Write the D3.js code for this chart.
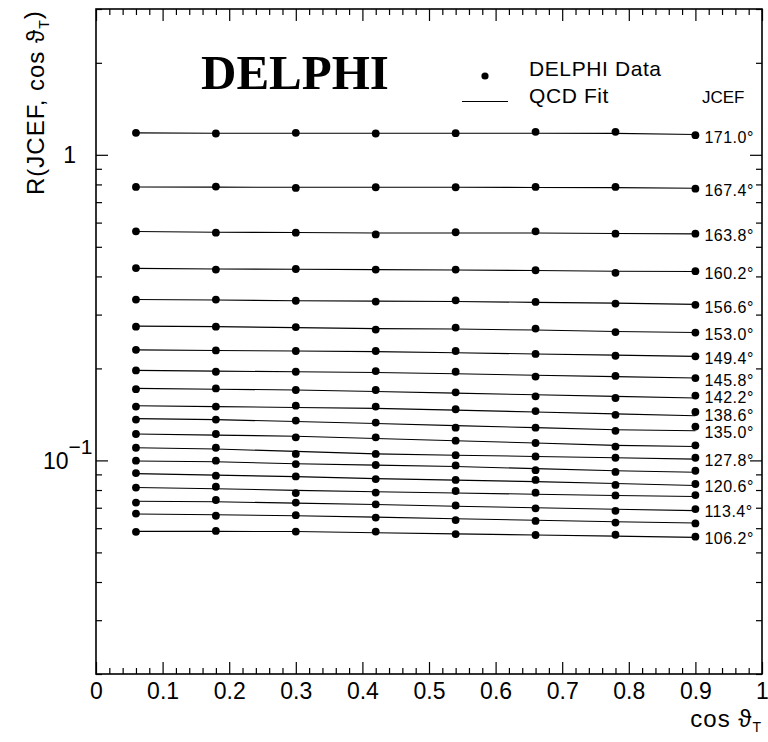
<!DOCTYPE html>
<html>
<head>
<meta charset="utf-8">
<script src="https://cdn.jsdelivr.net/npm/d3@7"></script>
<style>
  html, body { margin: 0; padding: 0; background: #fff; }
  svg { display: block; }
  text { fill: #000; }
</style>
</head>
<body>
<svg id="chart" width="768" height="742" font-family="Liberation Sans, Arial, sans-serif"></svg>
<script>
// ---------------- data ----------------
const cosTheta = [0.06, 0.18, 0.30, 0.42, 0.54, 0.66, 0.78, 0.90];

const jcefAngles = [171.0, 167.4, 163.8, 160.2, 156.6, 153.0, 149.4, 145.8, 142.2, 138.6,
                    135.0, 131.4, 127.8, 124.2, 120.6, 117.0, 113.4, 109.8, 106.2];
const jcefLabels = ["171.0°", "167.4°", "163.8°", "160.2°", "156.6°", "153.0°", "149.4°", "145.8°",
                    "142.2°", "138.6°", "135.0°", "", "127.8°", "", "120.6°", "", "113.4°", "", "106.2°"];

// DELPHI data points, one array per JCEF angle
const data_171_0 = [1.180, 1.174, 1.180, 1.174, 1.177, 1.189, 1.189, 1.159];
const data_167_4 = [0.785, 0.787, 0.779, 0.783, 0.783, 0.785, 0.785, 0.775];
const data_163_8 = [0.562, 0.556, 0.556, 0.549, 0.558, 0.562, 0.552, 0.552];
const data_160_2 = [0.426, 0.421, 0.423, 0.421, 0.421, 0.419, 0.411, 0.416];
const data_156_6 = [0.336, 0.336, 0.333, 0.331, 0.334, 0.330, 0.326, 0.323];
const data_153_0 = [0.274, 0.274, 0.273, 0.268, 0.272, 0.270, 0.263, 0.262];
const data_149_4 = [0.230, 0.229, 0.228, 0.228, 0.228, 0.223, 0.220, 0.219];
const data_145_8 = [0.197, 0.195, 0.195, 0.196, 0.195, 0.188, 0.189, 0.186];
const data_142_2 = [0.171, 0.172, 0.170, 0.170, 0.167, 0.162, 0.160, 0.163];
const data_138_6 = [0.150, 0.150, 0.151, 0.150, 0.147, 0.145, 0.141, 0.144];
const data_135_0 = [0.136, 0.136, 0.135, 0.133, 0.128, 0.128, 0.125, 0.129];
const data_131_4 = [0.122, 0.122, 0.119, 0.119, 0.116, 0.114, 0.111, 0.112];
const data_127_8 = [0.110, 0.110, 0.105, 0.105, 0.104, 0.103, 0.102, 0.102];
const data_124_2 = [0.0998, 0.0998, 0.0973, 0.0966, 0.0963, 0.0929, 0.0917, 0.0925];
const data_120_6 = [0.0909, 0.0891, 0.0886, 0.0869, 0.0863, 0.0863, 0.0831, 0.0837];
const data_117_0 = [0.0815, 0.0820, 0.0782, 0.0785, 0.0794, 0.0784, 0.0768, 0.0770];
const data_113_4 = [0.0728, 0.0742, 0.0728, 0.0718, 0.0712, 0.0697, 0.0684, 0.0693];
const data_109_8 = [0.0670, 0.0659, 0.0662, 0.0650, 0.0638, 0.0634, 0.0626, 0.0622];
const data_106_2 = [0.0584, 0.0588, 0.0585, 0.0585, 0.0574, 0.0570, 0.0571, 0.0563];

// QCD fit curves, one array per JCEF angle
const fit_171_0 = [1.180, 1.177, 1.177, 1.176, 1.176, 1.177, 1.175, 1.165];
const fit_167_4 = [0.785, 0.784, 0.783, 0.783, 0.783, 0.782, 0.781, 0.777];
const fit_163_8 = [0.561, 0.558, 0.557, 0.555, 0.555, 0.555, 0.553, 0.551];
const fit_160_2 = [0.425, 0.423, 0.422, 0.421, 0.420, 0.418, 0.416, 0.415];
const fit_156_6 = [0.336, 0.335, 0.333, 0.332, 0.331, 0.329, 0.327, 0.324];
const fit_153_0 = [0.275, 0.274, 0.272, 0.270, 0.269, 0.267, 0.264, 0.262];
const fit_149_4 = [0.230, 0.229, 0.228, 0.227, 0.225, 0.223, 0.221, 0.219];
const fit_145_8 = [0.197, 0.196, 0.195, 0.194, 0.192, 0.190, 0.188, 0.186];
const fit_142_2 = [0.172, 0.171, 0.170, 0.168, 0.166, 0.164, 0.162, 0.160];
const fit_138_6 = [0.151, 0.150, 0.149, 0.148, 0.146, 0.144, 0.142, 0.140];
const fit_135_0 = [0.137, 0.136, 0.134, 0.132, 0.130, 0.128, 0.126, 0.125];
const fit_131_4 = [0.122, 0.121, 0.120, 0.118, 0.116, 0.114, 0.112, 0.111];
const fit_127_8 = [0.110, 0.109, 0.107, 0.105, 0.104, 0.103, 0.102, 0.101];
const fit_124_2 = [0.0995, 0.0990, 0.0975, 0.0965, 0.0955, 0.0940, 0.0925, 0.0915];
const fit_120_6 = [0.0905, 0.0895, 0.0885, 0.0872, 0.0862, 0.0852, 0.0840, 0.0828];
const fit_117_0 = [0.0815, 0.0808, 0.0798, 0.0790, 0.0782, 0.0775, 0.0768, 0.0762];
const fit_113_4 = [0.0735, 0.0732, 0.0725, 0.0717, 0.0708, 0.0700, 0.0692, 0.0685];
const fit_109_8 = [0.0668, 0.0664, 0.0659, 0.0652, 0.0644, 0.0637, 0.0630, 0.0624];
const fit_106_2 = [0.0586, 0.0586, 0.0585, 0.0580, 0.0575, 0.0570, 0.0565, 0.0560];

const xMajorTicks = [0, 0.1, 0.2, 0.3, 0.4, 0.5, 0.6, 0.7, 0.8, 0.9, 1];
const xTickLabels = ["0", "0.1", "0.2", "0.3", "0.4", "0.5", "0.6", "0.7", "0.8", "0.9", "1"];
const yMajorTicks = [0.1, 1];
const yMinorTicks = [0.02, 0.03, 0.04, 0.05, 0.06, 0.07, 0.08, 0.09,
                     0.2, 0.3, 0.4, 0.5, 0.6, 0.7, 0.8, 0.9, 2, 3];

const dataSeries = [data_171_0, data_167_4, data_163_8, data_160_2, data_156_6, data_153_0,
  data_149_4, data_145_8, data_142_2, data_138_6, data_135_0, data_131_4, data_127_8,
  data_124_2, data_120_6, data_117_0, data_113_4, data_109_8, data_106_2];
const fitSeries = [fit_171_0, fit_167_4, fit_163_8, fit_160_2, fit_156_6, fit_153_0,
  fit_149_4, fit_145_8, fit_142_2, fit_138_6, fit_135_0, fit_131_4, fit_127_8,
  fit_124_2, fit_120_6, fit_117_0, fit_113_4, fit_109_8, fit_106_2];

// ---------------- chart ----------------
const svg = d3.select("#chart");
const x = d3.scaleLinear().domain([0, 1]).range([96, 762]);
const y = d3.scaleLog().domain([0.02, 3]).range([674, 9]);

const xMinorTicks = d3.range(0, 1.0001, 0.02).filter(v => Math.abs(v * 10 - Math.round(v * 10)) > 1e-6);

function styleAxis(g) {
  g.select(".domain").remove();
  g.selectAll(".tick line").attr("stroke", "#000").attr("stroke-width", 1.2);
}

// bottom axis (ticks point inward)
svg.append("g").attr("transform", `translate(0,${y.range()[0]})`)
  .call(d3.axisBottom(x).tickValues(xMajorTicks).tickSize(-12).tickPadding(9)
        .tickFormat((d, i) => xTickLabels[i]))
  .call(styleAxis)
  .call(g => g.selectAll("text").attr("font-size", 23)
        .style("font-family", "Liberation Sans, Arial, sans-serif").attr("fill", "#000"));
svg.append("g").attr("transform", `translate(0,${y.range()[0]})`)
  .call(d3.axisBottom(x).tickValues(xMinorTicks).tickSize(-6).tickFormat(""))
  .call(styleAxis);
// top axis
svg.append("g").attr("transform", `translate(0,${y.range()[1]})`)
  .call(d3.axisTop(x).tickValues(xMajorTicks).tickSize(-12).tickFormat(""))
  .call(styleAxis);
svg.append("g").attr("transform", `translate(0,${y.range()[1]})`)
  .call(d3.axisTop(x).tickValues(xMinorTicks).tickSize(-6).tickFormat(""))
  .call(styleAxis);
// left axis
svg.append("g").attr("transform", `translate(${x.range()[0]},0)`)
  .call(d3.axisLeft(y).tickValues(yMajorTicks).tickSize(-12).tickFormat(""))
  .call(styleAxis);
svg.append("g").attr("transform", `translate(${x.range()[0]},0)`)
  .call(d3.axisLeft(y).tickValues(yMinorTicks).tickSize(-6).tickFormat(""))
  .call(styleAxis);
// right axis
svg.append("g").attr("transform", `translate(${x.range()[1]},0)`)
  .call(d3.axisRight(y).tickValues(yMajorTicks).tickSize(-12).tickFormat(""))
  .call(styleAxis);
svg.append("g").attr("transform", `translate(${x.range()[1]},0)`)
  .call(d3.axisRight(y).tickValues(yMinorTicks).tickSize(-6).tickFormat(""))
  .call(styleAxis);

// frame
svg.append("rect")
  .attr("x", x.range()[0]).attr("y", y.range()[1])
  .attr("width", x.range()[1] - x.range()[0]).attr("height", y.range()[0] - y.range()[1])
  .attr("fill", "none").attr("stroke", "#000").attr("stroke-width", 1.6);

// y tick labels
svg.append("text").attr("x", x.range()[0] - 20).attr("y", y(1)).attr("dy", "0.36em")
  .attr("text-anchor", "end").attr("font-size", 23).text("1");
const tenLbl = svg.append("text").attr("x", x.range()[0] - 53).attr("y", y(0.1)).attr("dy", "0.36em")
  .attr("font-size", 23);
tenLbl.append("tspan").text("10");
tenLbl.append("tspan").attr("dy", "-0.7em").attr("font-size", 21).text("−1");

// axis titles
const yTitle = svg.append("text")
  .attr("transform", "translate(44,195) rotate(-90)")
  .attr("font-size", 24).attr("letter-spacing", 1);
yTitle.append("tspan").text("R(JCEF, cos ϑ");
yTitle.append("tspan").attr("font-size", 14).attr("dy", "0.35em").text("T");
yTitle.append("tspan").attr("dy", "-0.35em").attr("font-size", 24).text(")");

const xTitle = svg.append("text").attr("x", 762).attr("y", 727)
  .attr("text-anchor", "end").attr("font-size", 24).attr("letter-spacing", 1);
xTitle.append("tspan").text("cos ϑ");
xTitle.append("tspan").attr("font-size", 14).attr("dy", "0.35em").text("T");

// fit lines
const line = d3.line().x((d, i) => x(cosTheta[i])).y(d => y(d));
svg.append("g").selectAll("path").data(fitSeries).join("path")
  .attr("d", line).attr("fill", "none").attr("stroke", "#000").attr("stroke-width", 1.1);

// data points
const pts = svg.append("g");
dataSeries.forEach(series => {
  pts.selectAll(null).data(series).join("circle")
    .attr("cx", (d, i) => x(cosTheta[i])).attr("cy", d => y(d))
    .attr("r", 3.9).attr("fill", "#000");
});

// JCEF labels at right end of each series, pushed apart to avoid collisions
const labelGap = 17.5;
const labelItems = [];
dataSeries.forEach((d, i) => {
  if (!jcefLabels[i]) return;
  const want = y(d[d.length - 1]) + 2;
  const prev = labelItems.length ? labelItems[labelItems.length - 1].pos : -Infinity;
  labelItems.push({ text: jcefLabels[i], pos: Math.max(want, prev + labelGap) });
});
svg.append("g").selectAll("text").data(labelItems).join("text")
  .attr("x", x(cosTheta[cosTheta.length - 1]) + 9)
  .attr("y", d => d.pos)
  .attr("dy", "0.36em")
  .attr("font-size", 16)
  .attr("letter-spacing", 0.5)
  .text(d => d.text);

// DELPHI logo
svg.append("text").attr("x", 201).attr("y", 89)
  .style("font-family", "'Liberation Serif', 'Times New Roman', serif")
  .attr("font-weight", "bold").attr("font-size", 49).text("DELPHI");

// legend
svg.append("circle").attr("cx", 485).attr("cy", 76).attr("r", 3.6).attr("fill", "#000");
svg.append("text").attr("x", 529).attr("y", 76).attr("font-size", 21).attr("letter-spacing", 0.6).text("DELPHI Data");
svg.append("line").attr("x1", 462).attr("x2", 508).attr("y1", 101.5).attr("y2", 101.5)
  .attr("stroke", "#000").attr("stroke-width", 1.1);
svg.append("text").attr("x", 529).attr("y", 103).attr("font-size", 21).attr("letter-spacing", 0.6).text("QCD Fit");
svg.append("text").attr("x", 702).attr("y", 103).attr("font-size", 17).text("JCEF");
</script>
</body>
</html>
